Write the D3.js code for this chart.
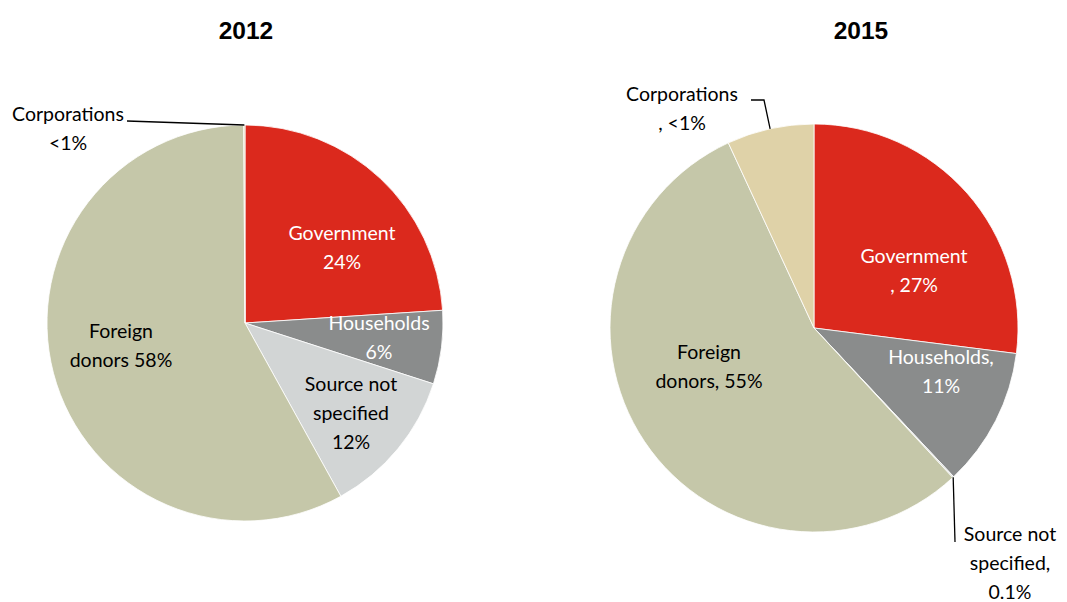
<!DOCTYPE html>
<html>
<head>
<meta charset="utf-8">
<script src="https://cdn.jsdelivr.net/npm/d3@7"></script>
<style>
  body { margin: 0; background: #fff; }
  svg { display: block; }
  .lbl { font-family: Lato, "Open Sans", sans-serif; font-size: 19.5px; }
  .title { font-family: "Liberation Sans", Arial, sans-serif; font-size: 24.5px; font-weight: bold; }
</style>
</head>
<body>
<svg id="chart" width="1067" height="602"></svg>
<script>
// Funding sources, clockwise from 12 o'clock
const categories = ["Government", "Households", "Source not specified", "Foreign donors", "Corporations"];
const colors = ["#db291d", "#8a8c8c", "#d2d5d5", "#c5c7a9", "#dfd2a8"];
const values2012 = [24, 6, 12, 58, 0.1];
const values2015 = [27, 11, 0.1, 55, 6.9];
const years = ["2012", "2015"];

const svg = d3.select("#chart");
const color = d3.scaleOrdinal().domain(categories).range(colors);
const pie = d3.pie().sort(null).value(d => d.value);

function drawPie(cfg) {
  const g = svg.append("g").attr("transform", `translate(${cfg.cx},${cfg.cy})`);
  const data = categories.map((c, i) => ({ name: c, value: cfg.values[i] }));
  const arcs = pie(data);
  const arc = d3.arc().innerRadius(0).outerRadius(cfg.r);
  g.selectAll("path").data(arcs).join("path")
    .attr("d", arc)
    .attr("fill", d => color(d.data.name))
    .attr("stroke", "#fff")
    .attr("stroke-width", 0.8);

  svg.append("text").attr("class", "title")
    .attr("x", cfg.titleX).attr("y", 39)
    .attr("text-anchor", "middle")
    .text(cfg.year);

  // slice labels
  cfg.labels.forEach(l => {
    const t = svg.append("text").attr("class", "lbl")
      .attr("text-anchor", "middle")
      .attr("fill", l.fill);
    l.lines.forEach((s, i) => {
      t.append("tspan").attr("x", l.x).attr("y", l.y + i * 29).text(s);
    });
  });

  // leader lines
  cfg.leaders.forEach(pts => {
    svg.append("path")
      .attr("d", d3.line()(pts))
      .attr("fill", "none")
      .attr("stroke", "#000")
      .attr("stroke-width", 1.3);
  });
  return arcs;
}

// point on the rim of a pie at a given angle
function edgePoint(cx, cy, r, angle) {
  return [cx + r * Math.sin(angle), cy - r * Math.cos(angle)];
}

const a2012 = pie(categories.map((c, i) => ({ name: c, value: values2012[i] })));
const corp2012 = a2012[4];
const p2012 = edgePoint(245, 323, 198, (corp2012.startAngle + corp2012.endAngle) / 2);

drawPie({
  year: years[0], cx: 245, cy: 323, r: 198, titleX: 246, values: values2012,
  labels: [
    { x: 342, y: 240, lines: ["Government", "24%"], fill: "#fff" },
    { x: 379, y: 330, lines: ["Households", "6%"], fill: "#fff" },
    { x: 351, y: 391, lines: ["Source not", "specified", "12%"], fill: "#000" },
    { x: 121, y: 338, lines: ["Foreign", "donors 58%"], fill: "#000" },
    { x: 68, y: 121, lines: ["Corporations", "<1%"], fill: "#000" }
  ],
  leaders: [[[127, 121], p2012]]
});

const a2015 = pie(categories.map((c, i) => ({ name: c, value: values2015[i] })));
const corp2015 = a2015[4];
const src2015 = a2015[2];
const pc = edgePoint(814, 328, 204, (corp2015.startAngle + corp2015.endAngle) / 2);
const ps = edgePoint(814, 328, 204, (src2015.startAngle + src2015.endAngle) / 2);

drawPie({
  year: years[1], cx: 814, cy: 328, r: 204, titleX: 861, values: values2015,
  labels: [
    { x: 914, y: 263, lines: ["Government", ", 27%"], fill: "#fff" },
    { x: 941, y: 364, lines: ["Households,", "11%"], fill: "#fff" },
    { x: 709, y: 359, lines: ["Foreign", "donors, 55%"], fill: "#000" },
    { x: 682, y: 101, lines: ["Corporations", ", <1%"], fill: "#000" },
    { x: 1010, y: 541, lines: ["Source not", "specified,", "0.1%"], fill: "#000" }
  ],
  leaders: [
    [[751, 100], [764, 100], pc],
    [ps, [955, 542]]
  ]
});
</script>
</body>
</html>
